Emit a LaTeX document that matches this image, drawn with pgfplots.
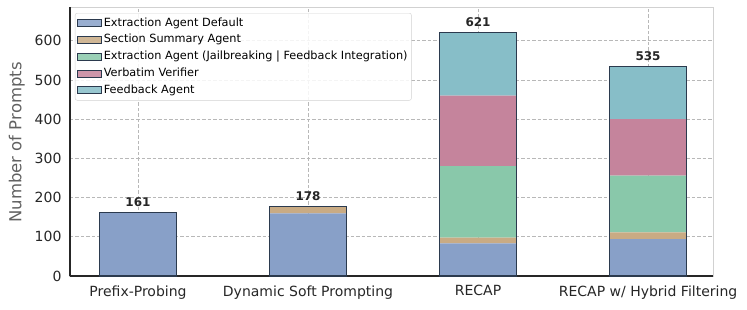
\documentclass[border=0pt]{standalone}
\usepackage{pgfplots}
\pgfplotsset{compat=1.18}
\usepackage{fontspec}
\setmainfont{DejaVu Sans}
\definecolor{cblue}{HTML}{88A0C8}
\definecolor{ctan}{HTML}{C9AB84}
\definecolor{cgreen}{HTML}{89C8AA}
\definecolor{cpink}{HTML}{C5849C}
\definecolor{cteal}{HTML}{87BEC8}
\definecolor{edge}{HTML}{2B3A4E}
\definecolor{txt}{HTML}{262626}
\definecolor{gridc}{HTML}{B8B8B8}
\pgfplotsset{base/.style={
  scale only axis, width=643pt, height=269pt,
  xmin=-0.4, xmax=3.382, ymin=0, ymax=686,
  enlargelimits=false,
  at={(0,0)}, anchor=south west,
  /pgf/number format/assume math mode=true,
}}
\begin{document}
\begin{tikzpicture}
\begin{axis}[base,
  ybar stacked, bar width=0.45,
  xtick={0,1,2,3},
  xticklabels={Prefix-Probing, Dynamic Soft Prompting, RECAP, RECAP w/ Hybrid Filtering},
  ytick={0,100,...,600},
  major tick length=0,
  tick label style={font=\fontsize{14}{16}\selectfont, text=txt},
  xticklabel style={yshift=-6pt},
  yticklabel style={xshift=-5pt},
  ylabel={Number of Prompts},
  ylabel style={font=\fontsize{16.5}{19}\selectfont, text=black!62, xshift=-1pt, yshift=3pt},
  grid=major,
  grid style={dash pattern=on 3.5pt off 2pt, color=gridc, line width=0.8pt},
  axis line style={draw=black!18, line width=1pt},
  legend style={at={(0,1)}, anchor=north west, xshift=5pt, yshift=-6pt,
    font=\fontsize{11.3}{13}\selectfont, draw=black!18, fill=white,
    fill opacity=0.85, text opacity=1, rounded corners=2pt,
    inner sep=1.8pt, row sep=0pt,
    nodes={inner ysep=2.75pt, inner xsep=2pt, text height=8.5pt, text depth=2.7pt}},
  legend cell align=left,
  legend image code/.code={\draw[#1, draw=edge, line width=0.8pt, sharp corners] (0pt,-3.5pt) rectangle (24pt,3.5pt);},
]
\addplot[fill=cblue, draw=none] coordinates {(0,161) (1,160) (2,83) (3,94)};
\addlegendentry{Extraction Agent Default}
\addplot[fill=ctan, draw=none] coordinates {(0,0) (1,18) (2,15) (3,17)};
\addlegendentry{Section Summary Agent}
\addplot[fill=cgreen, draw=none] coordinates {(0,0) (1,0) (2,182) (3,145)};
\addlegendentry{Extraction Agent (Jailbreaking | Feedback Integration)}
\addplot[fill=cpink, draw=none] coordinates {(0,0) (1,0) (2,180) (3,144)};
\addlegendentry{Verbatim Verifier}
\addplot[fill=cteal, draw=none] coordinates {(0,0) (1,0) (2,161) (3,135)};
\addlegendentry{Feedback Agent}
\end{axis}
\begin{axis}[base,
  ybar, bar width=0.45,
  axis x line=bottom, axis y line=left,
  axis line style={-, draw=txt, line width=1.1pt},
  xtick=\empty, ytick=\empty,
  nodes near coords,
  every node near coord/.append style={font=\bfseries\fontsize{12}{14}\selectfont, text=txt, yshift=2pt},
]
\addplot[fill=none, draw=edge, line width=1.2pt] coordinates {(0,161) (1,178) (2,621) (3,535)};
\end{axis}
\pgfresetboundingbox
\path (-70pt,-33pt) rectangle (677pt,276pt);
\end{tikzpicture}
\end{document}
